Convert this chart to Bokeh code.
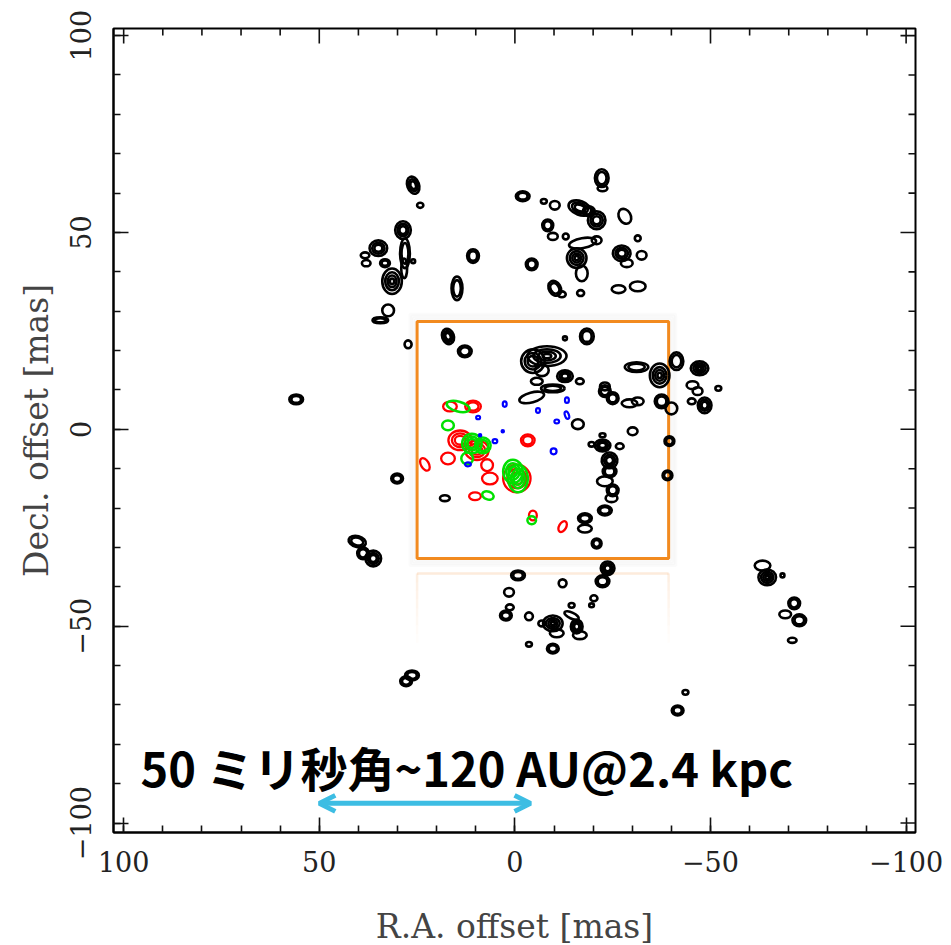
from bokeh.plotting import figure
from bokeh.models import (Range1d, LinearAxis, FixedTicker, Arrow, OpenHead,
                          ColumnDataSource)
from bokeh.core.properties import value
from bokeh.embed import file_html
from bokeh.resources import INLINE

# ---------------- data (mas) ----------------
# black contour spots: x, y, width, height, angle(deg), number of contour rings
blk_x = [26.0, 24.2, 28.6, 28.1, 34.9, 38.3, 38.0, 33.2, 31.4, 26.0, 28.3, 32.4, 34.4, 14.8, 10.7, 27.3,
         55.9, 30.1, 40.3, 38.8, 36.2, 17.9, 26.3, 27.8,
         -22.2, -22.4, -2.0, -7.4, -10.2, -16.6, -18.9, -20.9, -28.1, -8.4, -9.7, -13.0, -31.4, -17.3,
         -20.9, -15.8, -17.1, -27.3, -28.6, -32.4, -4.3, -10.2, -12.0, -16.8, -26.5, -31.4,
         17.1, 12.8, -8.2, -4.6, -12.8, -18.4, -6.9, -12.8, -5.6, -16.6, -9.7, -4.3, -23.0,
         -31.1, -23.0, -25.0, -29.3, -31.4, -37.0, -41.3, -37.5, -40.0, -47.2, -45.4, -46.7, -48.5,
         -45.2, -52.0, -39.5, -39.0, -16.1, -30.1, -22.4, -19.6, -22.4, -24.2, -24.2, -23.0, -25.0,
         -24.7, -26.8, -23.0, -17.9, -17.9, -20.9,
         -23.7, -22.4, -0.8, -12.2, 1.5, -20.2, -19.6, 1.3, 2.3, -3.6, -9.7, -14.5, -14.5, -15.8,
         -10.7, -16.6, -6.9, -3.6, -9.7, -43.6, -41.6,
         -63.3, -64.5, -68.4, -71.4, -69.1, -72.7, -70.9]
blk_y = [62.0, 56.9, 50.6, 44.7, 46.0, 44.2, 42.2, 42.2, 37.6, 42.7, 40.9, 30.2, 27.7, 35.8, 44.0, 21.6,
         7.6, -12.5, -28.5, -31.5, -32.8, -17.5, -62.5, -64.0,
         63.8, 61.2, 59.2, 57.9, 56.9, 56.2, 55.4, 53.1, 54.1, 51.8, 49.0, 49.0, 48.5, 47.3,
         48.0, 43.5, 39.6, 44.7, 42.2, 44.2, 41.9, 35.8, 34.3, 34.6, 35.6, 36.3,
         23.6, 19.8, 18.6, 17.3, 23.1, 23.6, 15.0, 13.5, 12.2, 12.2, 10.4, 8.1, 9.7,
         15.8, 10.9, 7.9, 6.6, 7.1, 13.7, 17.3, 7.1, 5.3, 15.5, 11.2, 9.7, 6.1,
         7.1, 10.4, -3.0, -11.7, 1.3, -0.5, -1.5, -3.8, -4.1, -7.9, -10.7, -13.2, -15.5,
         -17.5, -4.3, -20.6, -22.6, -25.2, -29.0,
         -35.3, -38.6, -37.1, -39.1, -41.4, -42.9, -44.7, -45.2, -47.3, -47.5, -49.3, -47.3, -44.7, -50.1,
         -51.8, -52.3, -49.3, -54.6, -55.7, -66.8, -71.4,
         -34.6, -37.6, -37.1, -44.2, -47.0, -48.5, -53.6]
blk_w = [3.0, 1.6, 4.0, 2.5, 4.5, 2.2, 2.2, 2.5, 5.0, 1.0, 1.5, 3.0, 4.0, 2.8, 3.0, 1.8,
         3.5, 3.0, 4.5, 3.0, 4.0, 2.5, 3.5, 3.0,
         3.5, 2.5, 3.5, 1.5, 2.5, 6.0, 3.0, 4.5, 3.0, 2.8, 2.5, 1.5, 1.5, 7.0,
         2.5, 5.0, 3.0, 4.5, 3.0, 2.5, 3.0, 3.0, 2.0, 1.8, 3.5, 4.0,
         3.0, 3.5, 10.0, 6.0, 1.0, 3.5, 3.5, 4.0, 3.0, 2.0, 6.0, 6.5, 3.0,
         6.0, 2.5, 3.0, 4.0, 3.0, 5.0, 3.5, 3.5, 3.0, 4.5, 3.0, 2.5, 3.5,
         2.0, 1.5, 2.5, 2.5, 3.0, 2.5, 1.5, 1.5, 4.0, 4.0, 3.5, 4.0, 3.0,
         3.0, 2.0, 3.5, 3.5, 3.5, 2.5,
         3.5, 3.5, 3.5, 2.0, 2.5, 1.8, 1.2, 2.0, 3.0, 2.0, 5.0, 4.0, 1.5, 3.0,
         3.5, 3.5, 1.8, 1.5, 3.0, 1.5, 3.0,
         4.0, 4.5, 1.0, 3.0, 3.0, 3.5, 2.2]
blk_h = [4.5, 1.3, 4.5, 7.5, 4.0, 1.5, 1.6, 2.0, 6.5, 1.0, 5.0, 3.0, 1.5, 6.0, 3.5, 2.0,
         2.5, 2.5, 2.8, 3.0, 4.0, 1.5, 2.5, 2.5,
         4.5, 1.5, 2.5, 1.2, 2.2, 3.5, 2.5, 4.5, 4.0, 3.0, 1.8, 1.5, 1.5, 2.5,
         2.0, 5.0, 4.0, 4.0, 2.0, 2.2, 3.0, 4.0, 1.5, 1.5, 2.0, 2.5,
         4.0, 3.0, 5.0, 6.0, 1.0, 4.0, 3.0, 3.0, 1.8, 1.5, 2.0, 2.5, 3.0,
         2.5, 2.0, 3.0, 2.0, 2.0, 6.0, 4.5, 3.5, 3.0, 3.5, 2.0, 2.0, 4.0,
         1.5, 1.2, 2.5, 2.5, 2.5, 2.0, 1.0, 1.2, 3.0, 4.0, 3.0, 2.5, 3.0,
         2.0, 1.5, 2.5, 2.5, 2.0, 2.5,
         3.5, 3.0, 2.5, 2.0, 2.2, 1.5, 1.0, 1.5, 2.5, 2.0, 4.0, 1.5, 1.2, 3.5,
         2.0, 2.0, 1.5, 1.2, 2.5, 1.2, 2.5,
         2.5, 4.0, 1.0, 3.0, 2.0, 3.0, 1.3]
blk_a = [20, 0, 0, 0, 0, 0, 0, 0, 0, 0, 0, 0, 0, 0, 0, 0,
         0, 0, -15, 0, 0, 0, 0, 0,
         0, 0, 0, 0, 0, -20, 0, 0, 30, 0, 0, 0, 0, 10,
         0, 0, 0, 0, 0, 0, 0, 30, 0, 0, 0, 0,
         20, 0, 0, 0, 0, 0, 0, 0, 0, 0, 0, 15, 0,
         0, 0, 0, 0, 0, 0, 0, 0, 0, 0, 0, 0, 0,
         0, 0, 0, 0, 0, 0, 0, 0, 0, 30, 0, 0, 0,
         0, 0, 0, 0, 0, 0,
         0, 0, 0, 0, 0, 0, 0, 0, 0, 0, 0, -25, 0, 0,
         0, 0, 0, 0, 0, 0, 0,
         0, 0, 0, 0, 0, 0, 0]
blk_n = [3, 1, 3, 2, 3, 1, 1, 2, 4, 1, 1, 1, 2, 2, 2, 1,
         2, 2, 2, 2, 3, 1, 2, 2,
         2, 1, 2, 1, 1, 3, 2, 3, 1, 2, 1, 1, 1, 1,
         1, 4, 1, 3, 1, 1, 2, 2, 1, 1, 1, 1,
         3, 2, 4, 3, 1, 2, 1, 3, 1, 1, 2, 1, 2,
         2, 1, 2, 1, 1, 4, 2, 2, 1, 4, 1, 1, 3,
         1, 1, 2, 2, 1, 1, 1, 1, 3, 3, 2, 1, 2,
         1, 1, 2, 2, 1, 2,
         3, 2, 2, 1, 1, 1, 1, 1, 2, 1, 4, 1, 1, 3,
         1, 1, 1, 1, 2, 1, 2,
         1, 4, 1, 2, 1, 2, 1]

red_x = [16.6, 10.7, 14.0, 9.7, 17.1, 23.0, -3.3, -0.5, 6.4, 10.2, -4.6, -12.2, 7.1]
red_y = [5.8, 5.8, -2.8, -5.3, -7.4, -8.9, -2.8, -12.5, -12.5, -17.0, -21.9, -24.7, -9.1]
red_w = [3.5, 4.0, 6.0, 6.0, 3.5, 2.0, 3.5, 7.0, 4.0, 3.0, 2.0, 1.8, 3.0]
red_h = [2.5, 3.0, 5.0, 5.0, 3.0, 3.5, 3.0, 7.0, 3.0, 2.0, 2.5, 3.0, 3.0]
red_a = [0, 0, 0, 0, 0, 30, 0, 0, 0, 0, 0, -30, 0]
red_n = [1, 2, 3, 3, 1, 1, 2, 3, 1, 1, 1, 1, 1]

grn_x = [14.5, 17.1, 11.0, 8.2, 12.2, 0.5, -0.8, 6.9, -4.3]
grn_y = [5.8, 1.0, -3.6, -4.1, -7.4, -10.7, -12.5, -16.8, -23.1]
grn_w = [6.0, 3.0, 5.0, 4.0, 3.0, 5.0, 5.0, 3.0, 2.2]
grn_h = [2.5, 2.5, 5.0, 4.0, 3.0, 6.0, 7.0, 2.0, 2.0]
grn_a = [-15, 0, 0, 0, 0, 0, 0, -20, 0]
grn_n = [1, 1, 3, 2, 1, 3, 3, 1, 1]

blu_x = [2.6, -13.3, -5.9, 9.4, -10.7, -13.3, -9.9, 5.1, 3.1, 12.0, 8.9]
blu_y = [6.4, 7.4, 4.8, 3.0, 2.0, 3.6, -5.6, -3.0, -0.5, -8.9, -1.5]
blu_w = [1.0, 1.0, 1.0, 1.0, 1.2, 1.0, 1.5, 1.2, 0.6, 1.5, 0.6]
blu_h = [1.4, 1.4, 1.2, 0.9, 1.0, 2.0, 1.5, 1.0, 0.6, 1.0, 0.6]
blu_a = [0, 0, 0, 0, 0, 20, 0, 0, 0, 0, 0]
blu_n = [1, 1, 1, 1, 1, 1, 1, 1, 1, 1, 1]

major_ticks = [-100, -50, 0, 50, 100]
minor_ticks = list(range(-100, 101, 10))
tick_labels = {-100: "\u2212100", -50: "\u221250", 0: "0", 50: "50", 100: "100"}

box_left, box_right, box_top, box_bottom = 25.0, -39.3, 27.4, -32.8
scale_x0, scale_x1, scale_y = 50.0, -4.0, -95.0
label_text = "50 ミリ秒角~120 AU@2.4 kpc"

# ---------------- figure ----------------
X0, X1 = 102.6, -102.4
Y0, Y1 = -102.4, 101.8
FW, FH = 802, 804
p = figure(width=951, height=945, output_backend="svg", toolbar_location=None,
           x_range=Range1d(X0, X1), y_range=Range1d(Y0, Y1),
           frame_width=FW, frame_height=FH,
           min_border_left=113, min_border_right=36, min_border_top=28, min_border_bottom=113,
           x_axis_location=None, y_axis_location=None)
p.grid.visible = False
p.outline_line_color = "black"
p.outline_line_width = 2
p.background_fill_color = "white"
p.border_fill_color = "white"

serif = "DejaVu Serif"


def style_axis(ax):
    ax.ticker = FixedTicker(ticks=major_ticks, minor_ticks=minor_ticks)
    ax.major_tick_in = 15
    ax.major_tick_out = 0
    ax.minor_tick_in = 7
    ax.minor_tick_out = 0
    ax.major_tick_line_width = 1.6
    ax.minor_tick_line_width = 1.6
    ax.axis_line_width = 2
    ax.major_tick_line_color = "#111111"
    ax.minor_tick_line_color = "#111111"
    ax.major_label_overrides = tick_labels
    ax.major_label_text_font = serif
    ax.major_label_text_font_size = "27px"
    ax.major_label_text_color = "#222222"
    ax.axis_label_text_font = serif
    ax.axis_label_text_font_size = "33px"
    ax.axis_label_text_font_style = "normal"
    ax.axis_label_text_color = "#444444"


xb = LinearAxis(axis_label="R.A. offset [mas]")
style_axis(xb)
xb.major_label_standoff = 18
xb.axis_label_standoff = 32
p.add_layout(xb, "below")

yl = LinearAxis(axis_label="Decl. offset [mas]")
style_axis(yl)
yl.major_label_orientation = "vertical"
yl.major_label_standoff = 22
yl.axis_label_standoff = 12
p.add_layout(yl, "left")

# ticks on the top and right frame edges (inward)
px_x = abs(X1 - X0) / FW   # mas per pixel
px_y = abs(Y1 - Y0) / FH
tx_major = [t for t in major_ticks]
tx_minor = [t for t in minor_ticks if t not in major_ticks]
p.segment(x0=tx_major, x1=tx_major, y0=[Y1] * len(tx_major), y1=[Y1 - 15 * px_y] * len(tx_major),
          line_color="#111111", line_width=1.6)
p.segment(x0=tx_minor, x1=tx_minor, y0=[Y1] * len(tx_minor), y1=[Y1 - 7 * px_y] * len(tx_minor),
          line_color="#111111", line_width=1.6)
p.segment(y0=tx_major, y1=tx_major, x0=[X1] * len(tx_major), x1=[X1 + 15 * px_x] * len(tx_major),
          line_color="#111111", line_width=1.6)
p.segment(y0=tx_minor, y1=tx_minor, x0=[X1] * len(tx_minor), x1=[X1 + 7 * px_x] * len(tx_minor),
          line_color="#111111", line_width=1.6)

# ---------------- orange box with soft shadow and faint reflection ----------------
for i in range(1, 5):
    d = 0.45 * i
    p.quad(left=[box_left + d], right=[box_right - d], top=[box_top + d], bottom=[box_bottom - d],
           fill_alpha=0, line_color="#999999", line_alpha=0.045, line_width=3)

refl_top = box_bottom - 3.8
p.segment(x0=[box_left], x1=[box_right], y0=[refl_top], y1=[refl_top],
          line_color="#f5a560", line_alpha=0.22, line_width=2.5)
for k in range(8):
    ya = refl_top - 2.2 * k
    yb = refl_top - 2.2 * (k + 1)
    al = 0.18 * (1 - k / 8.0)
    p.segment(x0=[box_left, box_right], x1=[box_left, box_right], y0=[ya, ya], y1=[yb, yb],
              line_color="#f5a560", line_alpha=al, line_width=2.5)

p.quad(left=[box_left], right=[box_right], top=[box_top], bottom=[box_bottom],
       fill_alpha=0, line_color="#f28a1f", line_width=3)

# ---------------- contours (nested rings) ----------------
ring_scale = [1.0, 0.7, 0.45, 0.22]


def rings(xs, ys, ws, hs, angs, ns):
    ox, oy, ow, oh, oa = [], [], [], [], []
    for x, y, w, h, a, n in zip(xs, ys, ws, hs, angs, ns):
        for s in ring_scale[:n]:
            ox.append(x); oy.append(y); ow.append(w * s); oh.append(h * s); oa.append(a)
    return ColumnDataSource(dict(x=ox, y=oy, w=ow, h=oh, a=oa))


for xs, ys, ws, hs, angs, ns, col, lw in [
        (blk_x, blk_y, blk_w, blk_h, blk_a, blk_n, "black", 2.6),
        (red_x, red_y, red_w, red_h, red_a, red_n, "#ff0000", 2.3),
        (grn_x, grn_y, grn_w, grn_h, grn_a, grn_n, "#00e000", 2.5),
        (blu_x, blu_y, blu_w, blu_h, blu_a, blu_n, "#0000ff", 2.2)]:
    src = rings(xs, ys, ws, hs, angs, ns)
    p.ellipse(x="x", y="y", width="w", height="h", angle="a", angle_units="deg",
              source=src, fill_alpha=0, line_color=col, line_width=lw)

# ---------------- scale annotation ----------------
p.text(x=[95.7], y=[-85.6], text=[label_text], text_font=value("Noto Sans CJK JP"),
       text_font_style="bold", text_font_size="47px", text_color="black",
       text_align="left", text_baseline="alphabetic")

arrow_col = "#3dbde3"
p.add_layout(Arrow(start=OpenHead(size=16, line_color=arrow_col, line_width=5),
                   end=OpenHead(size=16, line_color=arrow_col, line_width=5),
                   x_start=scale_x0, y_start=scale_y, x_end=scale_x1, y_end=scale_y,
                   line_color=arrow_col, line_width=5))

open("out.html", "w").write(file_html(p, INLINE))
